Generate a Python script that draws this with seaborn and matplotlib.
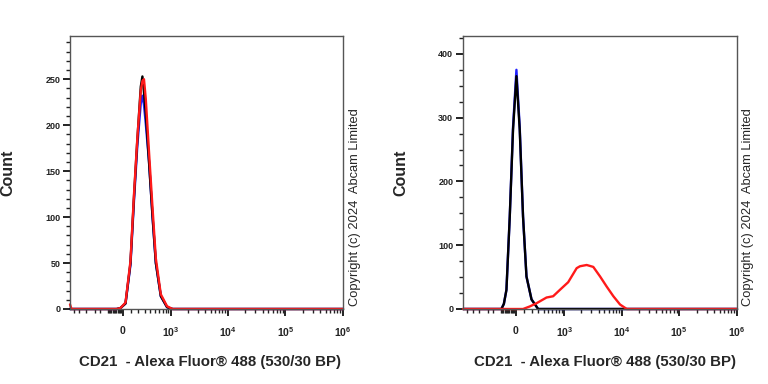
import numpy as np
import matplotlib
matplotlib.use("Agg")
import matplotlib.pyplot as plt
import seaborn as sns

# Left panel: fluorescence values (channel units) and counts per control
left_x = [-1190, -1120, -300, -70, -25, 35, 95, 140, 185, 235, 260, 285, 315,
          375, 445, 520, 650, 850, 1070, 1e6]
left_black = [0, 0, 0, 0, 1, 6, 50, 122, 184, 242, 253, 236, 213, 159, 101, 50, 14, 2, 0, 0]
left_blue = [0, 0, 0, 0, 1, 6, 48, 118, 178, 224, 232, 222, 202, 160, 100, 50, 14, 2, 0, 0]
left_red = [5, 0, 0, 0, 1, 7, 52, 125, 186, 238, 248, 250, 229, 170, 110, 55, 16, 3, 0, 0]

# Right panel
right_x = [-1190, -300, -178, -145, -112, -71, -32, 8, 47, 87, 130, 198, 300, 1e6]
right_black = [0, 0, 0, 8, 30, 145, 281, 365, 281, 145, 51, 15, 0, 0]
right_blue = [0, 0, 0, 8, 30, 145, 285, 375, 285, 145, 51, 15, 0, 0]
right_red_x = [-1190, 87, 174, 273, 460, 622, 832, 1175, 1660, 1897, 2487, 3240,
               4250, 5550, 7230, 9440, 12350, 1e6]
right_red = [0, 0, 4, 9, 18, 20, 30, 42, 64, 67, 69, 66, 51, 35, 20, 7, 0, 0]

major_x = [0, 1e3, 1e4, 1e5, 1e6]
major_x_labels = ["0", r"$\mathbf{10^3}$", r"$\mathbf{10^4}$", r"$\mathbf{10^5}$", r"$\mathbf{10^6}$"]

xlabel = "CD21  - Alexa Fluor® 488 (530/30 BP)"
copyright_text = "Copyright (c) 2024  Abcam Limited"

sns.set_style("ticks")
plt.rcParams["font.family"] = ["Liberation Sans", "DejaVu Sans"]
plt.rcParams["mathtext.fontset"] = "custom"
plt.rcParams["mathtext.bf"] = "Liberation Sans:bold"
plt.rcParams["mathtext.rm"] = "Liberation Sans"

W = 295.0


def fwd(x):
    return np.arcsinh(np.asarray(x, dtype=float) / W)


def inv(y):
    return W * np.sinh(np.asarray(y, dtype=float))


minor_x = ([-1000, -800, -600, -400, -300] + list(range(-180, 0, 15)) +
           list(range(100, 1000, 100)) +
           [m * 10 ** d for d in (3, 4, 5) for m in range(2, 10)])

fig = plt.figure(figsize=(7.68, 3.84), dpi=100)
ax1 = fig.add_axes([70 / 768, 75 / 384, 273 / 768, 273 / 384])
ax2 = fig.add_axes([463 / 768, 75 / 384, 274 / 768, 273 / 384])

lw = 1.7
sns.lineplot(x=left_x, y=left_blue, color="#2020ff", lw=lw, ax=ax1, estimator=None, sort=False)
sns.lineplot(x=left_x, y=left_black, color="black", lw=lw, ax=ax1, estimator=None, sort=False)
sns.lineplot(x=left_x, y=left_red, color="#ff1a1a", lw=lw, ax=ax1, estimator=None, sort=False)

sns.lineplot(x=right_x, y=right_blue, color="#2020ff", lw=lw, ax=ax2, estimator=None, sort=False)
sns.lineplot(x=right_x, y=right_black, color="black", lw=lw, ax=ax2, estimator=None, sort=False)
sns.lineplot(x=right_red_x, y=right_red, color="#ff1a1a", lw=lw, ax=ax2, estimator=None, sort=False)

for ax, ytop, ymaj, ymin_step in [(ax1, 297, 50, 10), (ax2, 428, 100, 25)]:
    ax.set_xscale("function", functions=(fwd, inv))
    ax.set_xlim(-1190, 1e6)
    ax.set_ylim(0, ytop)
    for ln in ax.get_lines():
        ln.set_clip_on(False)
    ax.set_xticks(major_x)
    ax.set_xticklabels(major_x_labels)
    ax.set_xticks(minor_x, minor=True)
    ax.set_yticks(np.arange(0, ytop, ymaj))
    ax.set_yticks(np.arange(0, ytop, ymin_step), minor=True)
    ax.tick_params(axis="both", which="major", length=5, width=1.4, color="#222222",
                   labelcolor="#222222")
    ax.tick_params(axis="y", which="major", labelsize=6.5, pad=2)
    ax.tick_params(axis="x", which="major", labelsize=7.5, pad=7)
    ax.tick_params(axis="both", which="minor", length=3, width=1.0, color="#222222")
    for lab in ax.get_yticklabels() + ax.get_xticklabels():
        lab.set_fontweight("bold")
    for sp in ax.spines.values():
        sp.set_visible(True)
        sp.set_linewidth(1.0)
        sp.set_color("#555555")
    ax.set_xlabel("")
    ax.set_ylabel("")

fig.text(210 / 768, 1 - 362 / 384, xlabel, ha="center", va="center",
         fontsize=10.8, fontweight="bold")
fig.text(605 / 768, 1 - 362 / 384, xlabel, ha="center", va="center",
         fontsize=10.8, fontweight="bold")
fig.text(8 / 768, 1 - 173 / 384, "Count", rotation=90, ha="center", va="center",
         fontsize=11.5, fontweight="bold")
fig.text(401 / 768, 1 - 173 / 384, "Count", rotation=90, ha="center", va="center",
         fontsize=11.5, fontweight="bold")
fig.text(355 / 768, 1 - 306 / 384, copyright_text, rotation=90, ha="center", va="bottom",
         fontsize=9.3)
fig.text(748 / 768, 1 - 306 / 384, copyright_text, rotation=90, ha="center", va="bottom",
         fontsize=9.3)

fig.savefig("out.png", dpi=100)
